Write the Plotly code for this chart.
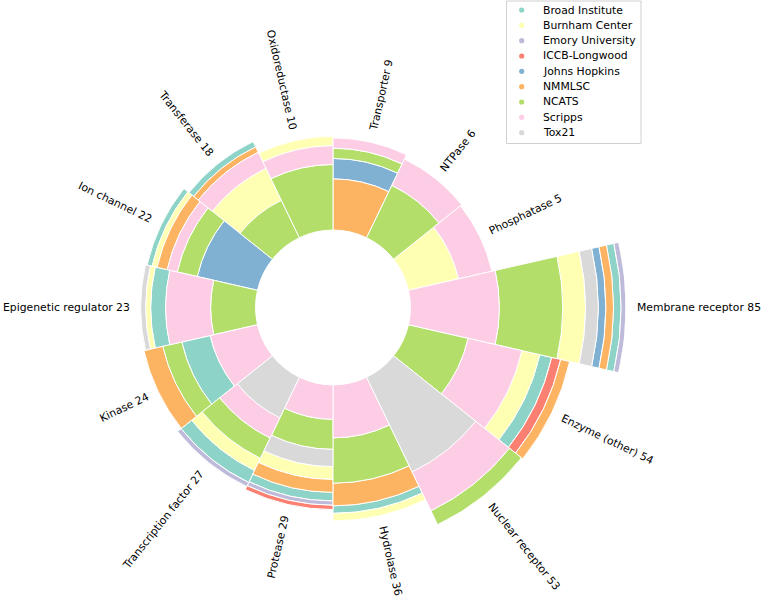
import math
import plotly.graph_objects as go

categories = ["Transporter", "NTPase", "Phosphatase", "Membrane receptor", "Enzyme (other)",
              "Nuclear receptor", "Hydrolase", "Protease", "Transcription factor", "Kinase",
              "Epigenetic regulator", "Ion channel", "Transferase", "Oxidoreductase"]

institutions = ["Broad Institute", "Burnham Center", "Emory University", "ICCB-Longwood",
                "Johns Hopkins", "NMMLSC", "NCATS", "Scripps", "Tox21"]
colors = ["#8dd3c7", "#ffffb3", "#bebada", "#fb8072", "#80b1d3",
          "#fdb462", "#b3de69", "#fccde5", "#d9d9d9"]

# stacked segments per category, innermost first
stack_names = [
    ["NMMLSC", "Johns Hopkins", "NCATS", "Scripps"],
    ["NCATS", "Scripps"],
    ["Burnham Center", "Scripps"],
    ["Scripps", "NCATS", "Burnham Center", "Tox21", "Johns Hopkins", "NMMLSC", "Broad Institute", "Emory University"],
    ["NCATS", "Scripps", "Burnham Center", "Broad Institute", "ICCB-Longwood", "NMMLSC"],
    ["Tox21", "Scripps", "NCATS"],
    ["Scripps", "NCATS", "NMMLSC", "Broad Institute", "Burnham Center"],
    ["Scripps", "NCATS", "Tox21", "Burnham Center", "NMMLSC", "Broad Institute", "Emory University", "ICCB-Longwood"],
    ["Tox21", "Scripps", "NCATS", "Burnham Center", "Broad Institute", "Emory University"],
    ["Scripps", "Broad Institute", "NCATS", "NMMLSC"],
    ["NCATS", "Scripps", "Broad Institute", "Burnham Center", "Tox21"],
    ["Johns Hopkins", "NCATS", "Scripps", "NMMLSC", "Burnham Center", "Broad Institute"],
    ["NCATS", "Burnham Center", "Scripps", "NMMLSC", "Broad Institute"],
    ["NCATS", "Scripps", "Burnham Center"],
]
stack_counts = [
    [5, 2, 1, 1],
    [4, 2],
    [3, 2],
    [35, 25, 9, 5, 3, 3, 3, 2],
    [20, 18, 6, 4, 3, 3],
    [34, 14, 5],
    [14, 12, 6, 2, 2],
    [8, 7, 4, 3, 3, 2, 1, 1],
    [10, 5, 5, 3, 3, 1],
    [10, 6, 4, 4],
    [9, 9, 3, 1, 1],
    [12, 4, 2, 2, 1, 1],
    [7, 6, 3, 1, 1],
    [7, 2, 1],
]

LOWER = 30      # empty inner circle
SLOPE = 0.63    # bar length = LOWER + SLOPE * total
R_MAX = 113.3

W, H = 767, 600
CX, CY, R_PX = 333, 307.5, 292.5
FS = 10.8

step = 360 / len(categories)
seg = {name: {"theta": [], "r": [], "base": []} for name in institutions}
totals = []
for i, (names, counts) in enumerate(zip(stack_names, stack_counts)):
    n = sum(counts)
    totals.append(n)
    length = LOWER + SLOPE * n
    b = LOWER
    for name, c in zip(names, counts):
        h = c / n * length
        seg[name]["theta"].append(i * step + step / 2)
        seg[name]["r"].append(h)
        seg[name]["base"].append(b)
        b += h

fig = go.Figure()
for name, col in zip(institutions, colors):
    fig.add_trace(go.Barpolar(
        theta=seg[name]["theta"], r=seg[name]["r"], base=seg[name]["base"],
        width=step, name=name, marker_color=col,
        marker_line=dict(color="white", width=1), showlegend=False))

# rough DejaVu Sans advance widths (em)
cw = {" ": .318, "a": .613, "b": .635, "c": .550, "d": .635, "e": .615, "f": .352, "g": .635,
      "h": .634, "i": .278, "l": .278, "m": .974, "n": .634, "o": .612, "p": .635, "r": .411,
      "s": .521, "t": .392, "u": .634, "x": .592, "y": .592, "E": .632, "H": .752, "I": .295,
      "K": .656, "M": .863, "N": .748, "O": .787, "P": .603, "T": .611, "(": .390, ")": .390}


def text_width(s, size):
    return sum(cw.get(ch, .636) for ch in s) * size


u = R_PX / R_MAX
annotations = []
for i, (cat, n) in enumerate(zip(categories, totals)):
    th = i * step + step / 2
    outer = (2 * LOWER + SLOPE * n) * u
    label = f"{cat} {n}"
    rc = outer + 11 + text_width(label, FS) / 2
    x = CX + rc * math.sin(math.radians(th))
    y = CY - rc * math.cos(math.radians(th))
    ang = th - 90 if th < 180 else th - 270
    annotations.append(dict(x=x / W, y=1 - y / H, xref="paper", yref="paper", text=label,
                            textangle=ang, showarrow=False, xanchor="center", yanchor="middle",
                            font=dict(family="DejaVu Sans", size=FS, color="black")))

# legend box drawn by hand (matplotlib-like spacing)
shapes = []
lx0, lx1, ly0, ly1 = 506.5, 641, 1, 143.5
shapes.append(dict(type="rect", xref="paper", yref="paper",
                   x0=lx0 / W, x1=lx1 / W, y0=1 - ly1 / H, y1=1 - ly0 / H,
                   line=dict(color="#d0d0d0", width=1), fillcolor="rgba(255,255,255,0.8)"))
for k, (name, col) in enumerate(zip(institutions, colors)):
    ry = 10 + k * 15.33
    shapes.append(dict(type="circle", xref="paper", yref="paper",
                       xsizemode="pixel", ysizemode="pixel",
                       xanchor=521.7 / W, yanchor=1 - ry / H,
                       x0=-2.6, x1=2.6, y0=-2.6, y1=2.6,
                       fillcolor=col, line=dict(width=0)))
    annotations.append(dict(x=541 / W, y=1 - ry / H, xref="paper", yref="paper", text=name,
                            showarrow=False, xanchor="left", yanchor="middle",
                            font=dict(family="DejaVu Sans", size=FS, color="black")))

hidden = dict(showline=False, showgrid=False, showticklabels=False, ticks="")
fig.update_layout(
    width=W, height=H, margin=dict(l=0, r=0, t=0, b=0),
    paper_bgcolor="white", showlegend=False,
    polar=dict(
        domain=dict(x=[(CX - R_PX) / W, (CX + R_PX) / W], y=[0, 2 * R_PX / H]),
        bgcolor="white", hole=0, barmode="overlay",
        radialaxis=dict(range=[0, R_MAX], **hidden),
        angularaxis=dict(rotation=90, direction="clockwise", **hidden),
    ),
    annotations=annotations, shapes=shapes,
)

fig.write_html("out.html", config={"displayModeBar": False},
               post_script="document.body.style.margin='0';")
